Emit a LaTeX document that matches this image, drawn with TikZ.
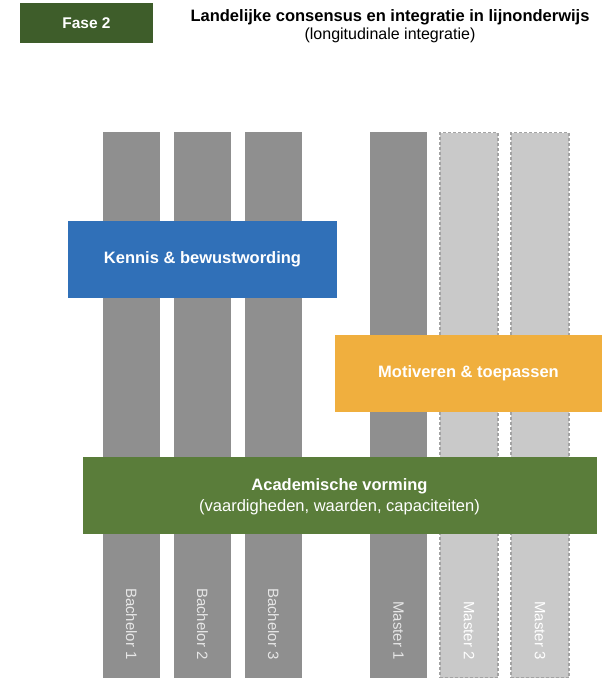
\documentclass[tikz,border=0pt]{standalone}
\usepackage{fontspec}
\setmainfont{Liberation Sans}
\definecolor{fasegreen}{HTML}{3E5D2A}
\definecolor{boxblue}{HTML}{3070B8}
\definecolor{boxorange}{HTML}{F0AF3E}
\definecolor{boxgreen}{HTML}{5A7D3A}
\definecolor{coldark}{HTML}{8F8F8F}
\definecolor{collight}{HTML}{C9C9C9}
\definecolor{coldash}{HTML}{A3A3A3}
\definecolor{labdark}{HTML}{E6E6E6}
\begin{document}
\begin{tikzpicture}[x=1pt,y=-1pt,
  colbar/.style={fill=coldark, draw=none, minimum width=57pt, minimum height=546pt, inner sep=0pt},
  colbarlight/.style={fill=collight, draw=coldash, dashed, line width=1.2pt, dash pattern=on 3pt off 2pt, minimum width=58pt, minimum height=545pt, inner sep=0pt},
  collabel/.style={rotate=-90, anchor=east, inner sep=0pt, font=\fontsize{15}{18}\selectfont},
  band/.style={draw=none, inner sep=0pt, text=white, align=center, font=\fontsize{16.5}{20}\selectfont\bfseries},
]
\useasboundingbox (0,0) rectangle (611,678);
% columns
\node[colbar] (b1) at (131.5,405) {};
\node[colbar] (b2) at (202.5,405) {};
\node[colbar] (b3) at (273.5,405) {};
\node[colbar] (m1) at (398.5,405) {};
\node[colbarlight] (m2) at (469,405) {};
\node[colbarlight] (m3) at (540,405) {};
% column labels
\node[collabel, text=labdark] (lb1) at (131.5,660) {Bachelor 1};
\node[collabel, text=labdark] (lb2) at (202.5,660) {Bachelor 2};
\node[collabel, text=labdark] (lb3) at (273.5,660) {Bachelor 3};
\node[collabel, text=labdark] (lm1) at (398.5,660) {Master 1};
\node[collabel, text=white] (lm2) at (469,660) {Master 2};
\node[collabel, text=white] (lm3) at (540,660) {Master 3};
% bands
\node[band, fill=boxblue, minimum width=269pt, minimum height=77pt] (kennis) at (202.5,259.5) {Kennis \& bewustwording};
\node[band, fill=boxorange, minimum width=267pt, minimum height=77pt] (motiv) at (468.5,373.5) {Motiveren \& toepassen};
\node[band, fill=boxgreen, minimum width=514pt, minimum height=77pt] (acad) at (339.5,495.5) {};
\node[band] (acadt) at (339.5,486) {Academische vorming};
\node[band, font=\fontsize{16.5}{20}\selectfont] (acads) at (339.5,507) {(vaardigheden, waarden, capaciteiten)};
% header
\node[fill=fasegreen, minimum width=133pt, minimum height=40pt, inner sep=0pt, text=white, font=\fontsize{15.5}{18}\selectfont\bfseries] (fase) at (86.5,23) {Fase 2};
\node[inner sep=0pt, font=\fontsize{16.5}{20}\selectfont\bfseries] (title) at (390,17) {Landelijke consensus en integratie in lijnonderwijs};
\node[inner sep=0pt, font=\fontsize{16}{19}\selectfont] (subtitle) at (390,35) {(longitudinale integratie)};
\end{tikzpicture}
\end{document}
